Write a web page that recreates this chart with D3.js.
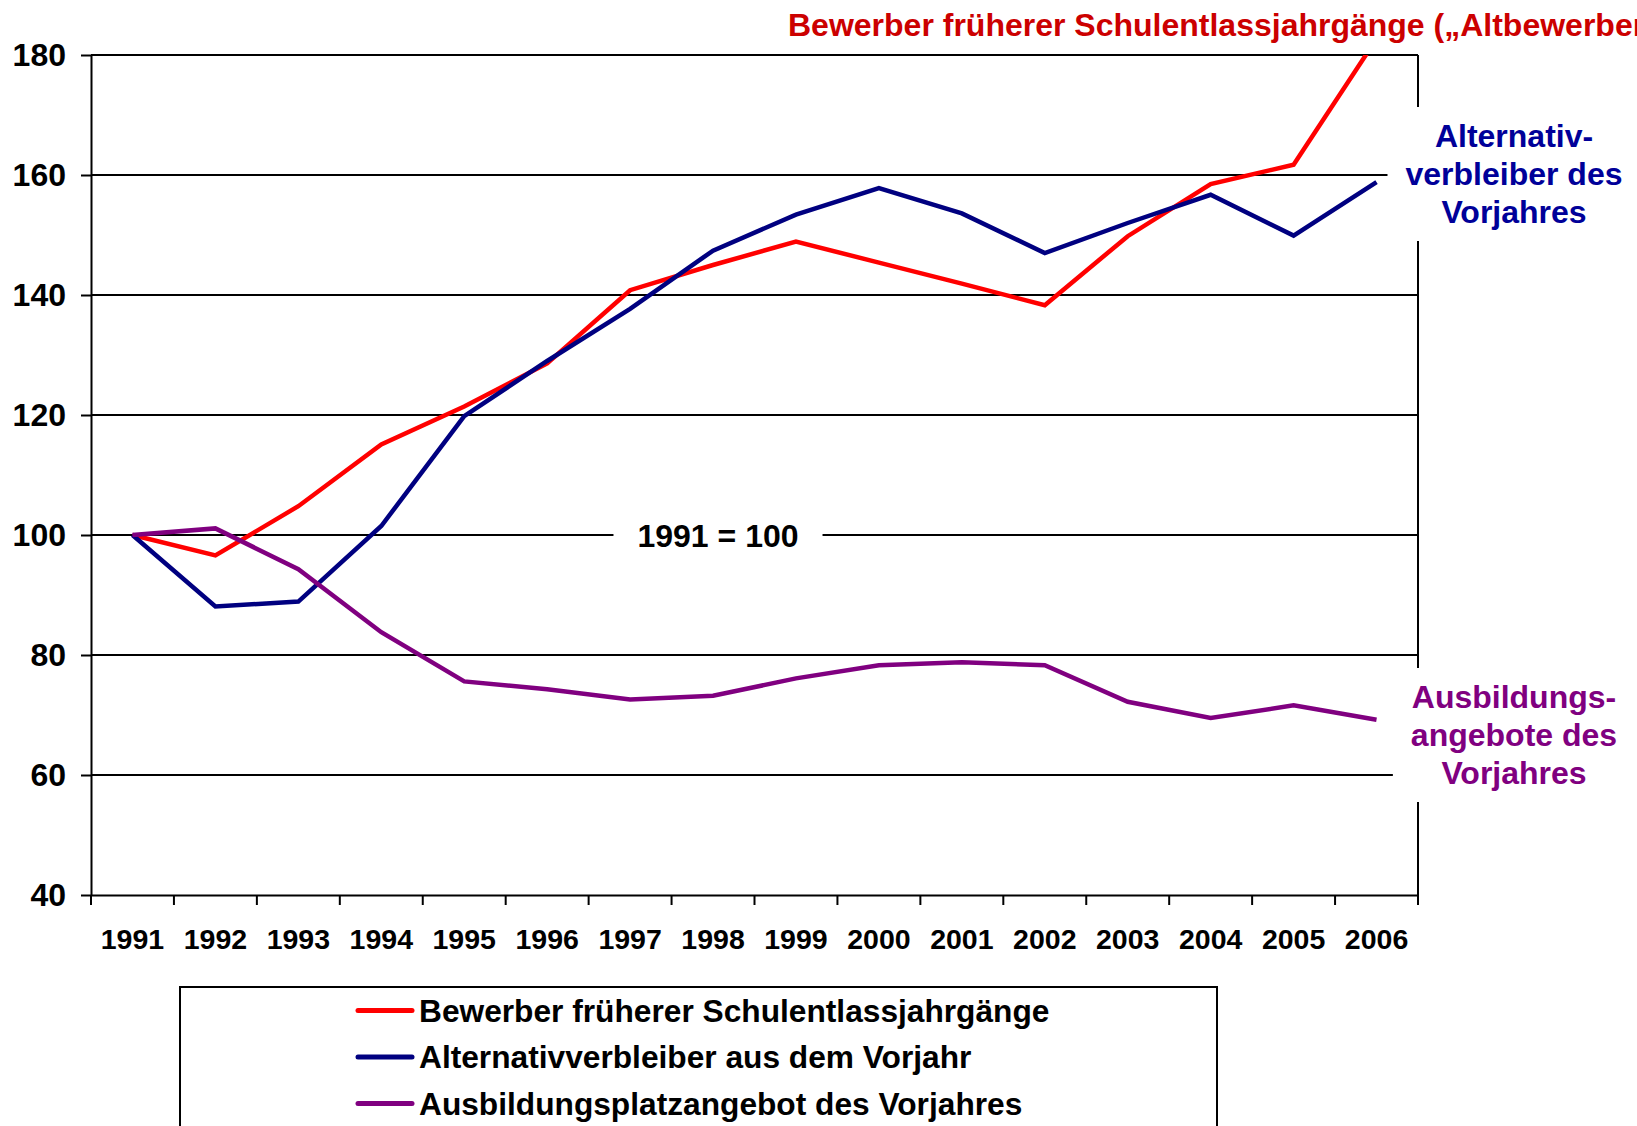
<!DOCTYPE html>
<html>
<head>
<meta charset="utf-8">
<script src="https://cdn.jsdelivr.net/npm/d3@7"></script>
<style>
  html, body { margin: 0; padding: 0; background: #fff; overflow: hidden; }
  svg text { font-family: "Liberation Sans", Arial, sans-serif; font-weight: bold; }
</style>
</head>
<body>
<svg id="chart" width="1637" height="1126"></svg>
<script>
// Data (index, 1991 = 100)
const years = ['1991', '1992', '1993', '1994', '1995', '1996', '1997', '1998',
               '1999', '2000', '2001', '2002', '2003', '2004', '2005', '2006'];
const altbewerber = [100, 96.6, 104.8, 115.1, 121.4, 128.6, 140.8, 145.0,
                     148.9, 145.4, 141.9, 138.3, 149.8, 158.5, 161.7, 182.7];
const alternativ = [100, 88.1, 88.9, 101.5, 119.8, 129.0, 137.7, 147.4,
                    153.4, 157.8, 153.6, 147.0, 152.0, 156.7, 149.9, 158.8];
const angebot = [100, 101.1, 94.3, 83.8, 75.6, 74.3, 72.6, 73.2,
                 76.1, 78.3, 78.8, 78.3, 72.2, 69.5, 71.6, 69.2];
const yTicks = [40, 60, 80, 100, 120, 140, 160, 180];

const seriesNames = ['Bewerber früherer Schulentlassjahrgänge',
                     'Alternativverbleiber aus dem Vorjahr',
                     'Ausbildungsplatzangebot des Vorjahres'];
const seriesColors = ['#ff0000', '#000080', '#800080'];
const titleText = 'Bewerber früherer Schulentlassjahrgänge („Altbewerber“)';
const labelAlternativ = ['Alternativ-', 'verbleiber des', 'Vorjahres'];
const labelAngebot = ['Ausbildungs-', 'angebote des', 'Vorjahres'];
const baseLabel = '1991 = 100';

// Layout
const plotLeft = 91, plotRight = 1418, plotTop = 55, plotBottom = 895;

const svg = d3.select('#chart');

const x = d3.scaleBand().domain(years).range([plotLeft, plotRight]);
const y = d3.scaleLinear().domain([40, 180]).range([plotBottom, plotTop]);

// Gridlines and right frame
const grid = svg.append('g');
grid.selectAll('line.grid')
    .data(yTicks.filter(v => v > 40))
    .join('line')
    .attr('x1', plotLeft).attr('x2', plotRight)
    .attr('y1', d => y(d)).attr('y2', d => y(d))
    .attr('stroke', '#000').attr('stroke-width', 2);
grid.append('line')
    .attr('x1', plotRight).attr('x2', plotRight)
    .attr('y1', y(180)).attr('y2', y(40))
    .attr('stroke', '#000').attr('stroke-width', 2);

// Y axis
const yAxis = svg.append('g')
    .attr('transform', `translate(${plotLeft},0)`)
    .call(d3.axisLeft(y).tickValues(yTicks).tickSize(10).tickPadding(15).tickSizeOuter(0));
yAxis.select('.domain').attr('stroke-width', 2);
yAxis.selectAll('.tick line').attr('stroke-width', 2);
yAxis.selectAll('text').attr('font-size', 32).attr('fill', '#000');

// X axis: labels centred, ticks on the band edges
const xAxis = svg.append('g')
    .attr('transform', `translate(0,${plotBottom})`)
    .call(d3.axisBottom(x).tickSize(0).tickPadding(34));
xAxis.select('.domain').attr('stroke-width', 2);
xAxis.selectAll('text').attr('font-size', 28.5).attr('fill', '#000');
const edges = years.map(d => x(d)).concat([plotRight]);
svg.append('g').selectAll('line')
    .data(edges)
    .join('line')
    .attr('x1', d => d).attr('x2', d => d)
    .attr('y1', plotBottom).attr('y2', plotBottom + 10)
    .attr('stroke', '#000').attr('stroke-width', 2);

// White label boxes that cut the grid
function boxedLabel(lines, cx, firstBaseline, color, padX, padY) {
    const g = svg.append('g');
    const bg = g.append('rect').attr('fill', '#fff');
    const t = g.append('text')
        .attr('text-anchor', 'middle')
        .attr('font-size', 32)
        .attr('fill', color);
    lines.forEach((s, i) => {
        t.append('tspan').attr('x', cx).attr('y', firstBaseline + i * 38).text(s);
    });
    const bb = t.node().getBBox();
    bg.attr('x', bb.x - padX).attr('y', bb.y - padY)
      .attr('width', bb.width + 2 * padX).attr('height', bb.height + 2 * padY);
    return g;
}

boxedLabel(labelAlternativ, 1514, 147, '#000099', 18, 11);
boxedLabel(labelAngebot, 1514, 708, '#800080', 18, 11);
boxedLabel([baseLabel], 718, 547, '#000', 24, 4);

// Series lines, clipped to the plot area
svg.append('clipPath').attr('id', 'plotClip')
    .append('rect').attr('x', plotLeft).attr('y', plotTop)
    .attr('width', plotRight - plotLeft).attr('height', plotBottom - plotTop);

const line = d3.line()
    .x((d, i) => x(years[i]) + x.bandwidth() / 2)
    .y(d => y(d));

const lines = svg.append('g').attr('clip-path', 'url(#plotClip)');
[altbewerber, alternativ, angebot].forEach((vals, i) => {
    lines.append('path')
        .datum(vals)
        .attr('d', line)
        .attr('fill', 'none')
        .attr('stroke', seriesColors[i])
        .attr('stroke-width', 4.5);
});

// Title in red at the top (runs off the right edge like the original)
svg.append('text')
    .attr('x', 788).attr('y', 36)
    .attr('font-size', 32)
    .attr('fill', '#cc0000')
    .text(titleText);

// Legend
const legend = svg.append('g');
legend.append('rect')
    .attr('x', 180).attr('y', 987)
    .attr('width', 1037).attr('height', 200)
    .attr('fill', 'none').attr('stroke', '#000').attr('stroke-width', 2);
seriesNames.forEach((name, i) => {
    const cy = 1010.5 + i * 46.5;
    legend.append('line')
        .attr('x1', 358).attr('x2', 412)
        .attr('y1', cy).attr('y2', cy)
        .attr('stroke', seriesColors[i]).attr('stroke-width', 5)
        .attr('stroke-linecap', 'round');
    legend.append('text')
        .attr('x', 419).attr('y', cy + 11)
        .attr('font-size', 31.7)
        .attr('fill', '#000')
        .text(name);
});
</script>
</body>
</html>
